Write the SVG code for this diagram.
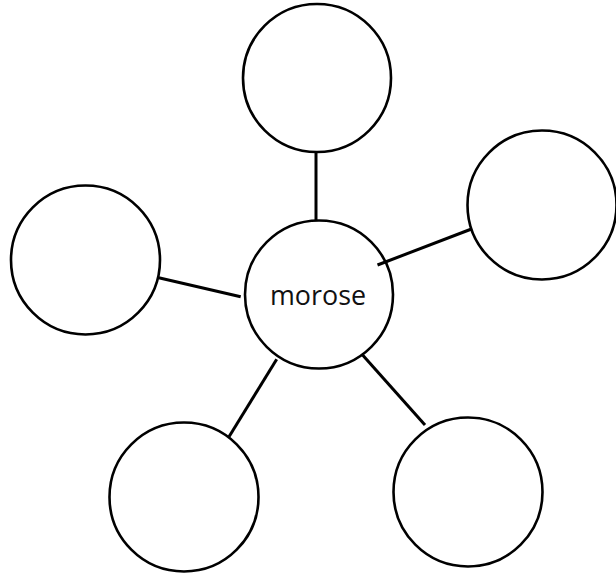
<svg xmlns="http://www.w3.org/2000/svg" width="616" height="575" viewBox="0 0 616 575">
<style>
.node circle{fill:#fff;stroke:#000;stroke-width:2.6}
.edges line{stroke:#000;stroke-width:3;stroke-linecap:butt}
.label{font-family:"Open Sans","Liberation Sans",sans-serif;font-size:27px;fill:#111}
</style>
<rect width="616" height="575" fill="#fff"/>
<g class="node" id="top"><circle cx="317" cy="78" r="74"/></g>
<g class="node" id="right"><circle cx="542" cy="205" r="74.5"/></g>
<g class="node" id="left"><circle cx="85.5" cy="260" r="74.5"/></g>
<g class="node" id="bottom-left"><circle cx="184" cy="497" r="74.5"/></g>
<g class="node" id="bottom-right"><circle cx="468" cy="492" r="74.5"/></g>
<g class="node" id="center"><circle cx="319" cy="294.5" r="74"/><text class="label" x="318" y="305" text-anchor="middle" textLength="96" lengthAdjust="spacingAndGlyphs">morose</text></g>
<g class="edges" id="connectors">
<line x1="316" y1="152" x2="316" y2="221"/>
<line x1="377.5" y1="265" x2="471.5" y2="229"/>
<line x1="158.7" y1="277.7" x2="240.7" y2="296.7"/>
<line x1="276.7" y1="359.3" x2="229" y2="436.7"/>
<line x1="361.7" y1="354" x2="425" y2="425"/>
</g>
</svg>
